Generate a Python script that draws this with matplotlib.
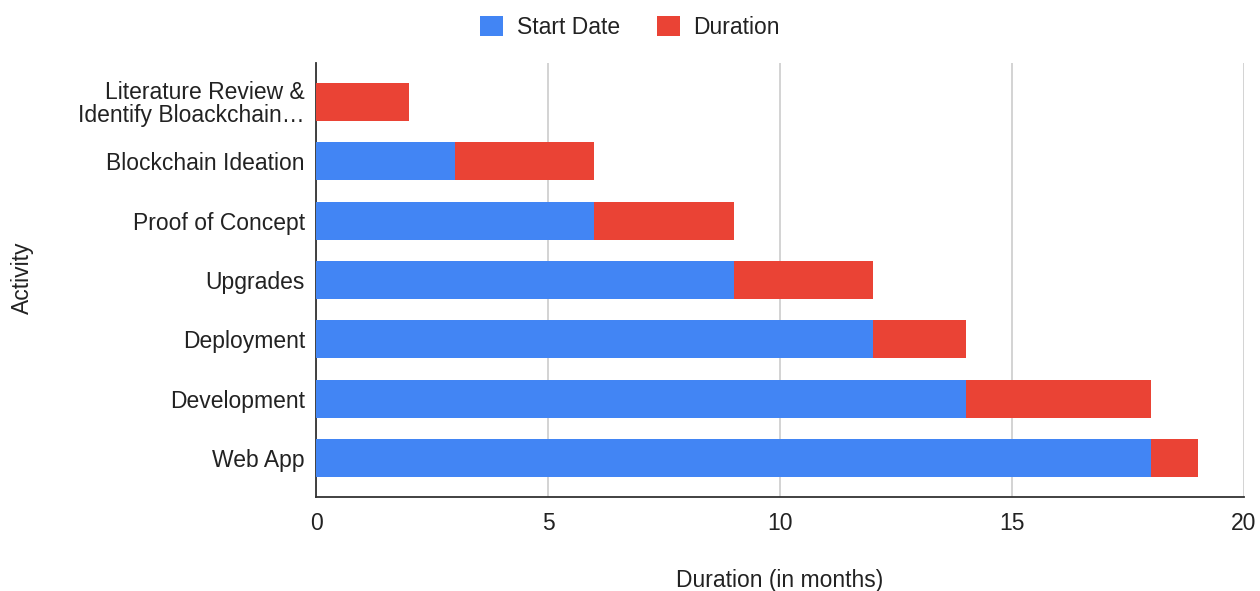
import matplotlib.pyplot as plt

plt.rcParams['font.family'] = ['Liberation Sans', 'DejaVu Sans']

activities = ["Literature Review &\nIdentify Bloackchain…", "Blockchain Ideation", "Proof of Concept",
              "Upgrades", "Deployment", "Development", "Web App"]
start_date = [0, 3, 6, 9, 12, 14, 18]
duration = [2, 3, 3, 3, 2, 4, 1]
x_ticks = [0, 5, 10, 15, 20]


def draw_gantt():
    fig = plt.figure(figsize=(12.6, 5.91), dpi=100)
    ax = fig.add_axes([0.2508, 0.159, 0.7365, 0.7344])
    pos = list(range(len(activities)))
    ax.barh(pos, start_date, height=0.64, color='#4285F4', label="Start Date", zorder=3)
    ax.barh(pos, duration, left=start_date, height=0.64, color='#EA4335', label="Duration", zorder=3)
    ax.set_yticks(pos)
    ax.set_yticklabels(activities, fontsize=16.5, color='#222222', linespacing=0.95)
    ax.set_ylim(6.657, -0.657)
    ax.set_xlim(0, 20)
    ax.set_xticks(x_ticks)
    ax.tick_params(axis='x', labelsize=16.5, labelcolor='#222222', length=0, pad=11)
    ax.tick_params(axis='y', length=0, pad=8)
    ax.grid(axis='x', color='#cccccc', linewidth=1.2, zorder=0)
    for s in ['top', 'right']:
        ax.spines[s].set_visible(False)
    ax.spines['left'].set_color('#333333')
    ax.spines['bottom'].set_color('#333333')
    ax.spines['left'].set_linewidth(1.3)
    ax.spines['bottom'].set_linewidth(1.3)
    ax.set_xlabel('Duration (in months)', fontsize=16.5, color='#222222', labelpad=24)
    fig.text(0.018, 0.53, 'Activity', rotation=90, fontsize=16.5, color='#222222', va='center', ha='center')
    fig.legend(loc='upper center', bbox_to_anchor=(0.5, 1.008), ncol=2, frameon=False, fontsize=16.5,
               handlelength=1.0, handleheight=1.0, columnspacing=1.6, handletextpad=0.6,
               labelcolor='#222222')
    fig.savefig('out.png', dpi=100)


if __name__ == '__main__':
    draw_gantt()
